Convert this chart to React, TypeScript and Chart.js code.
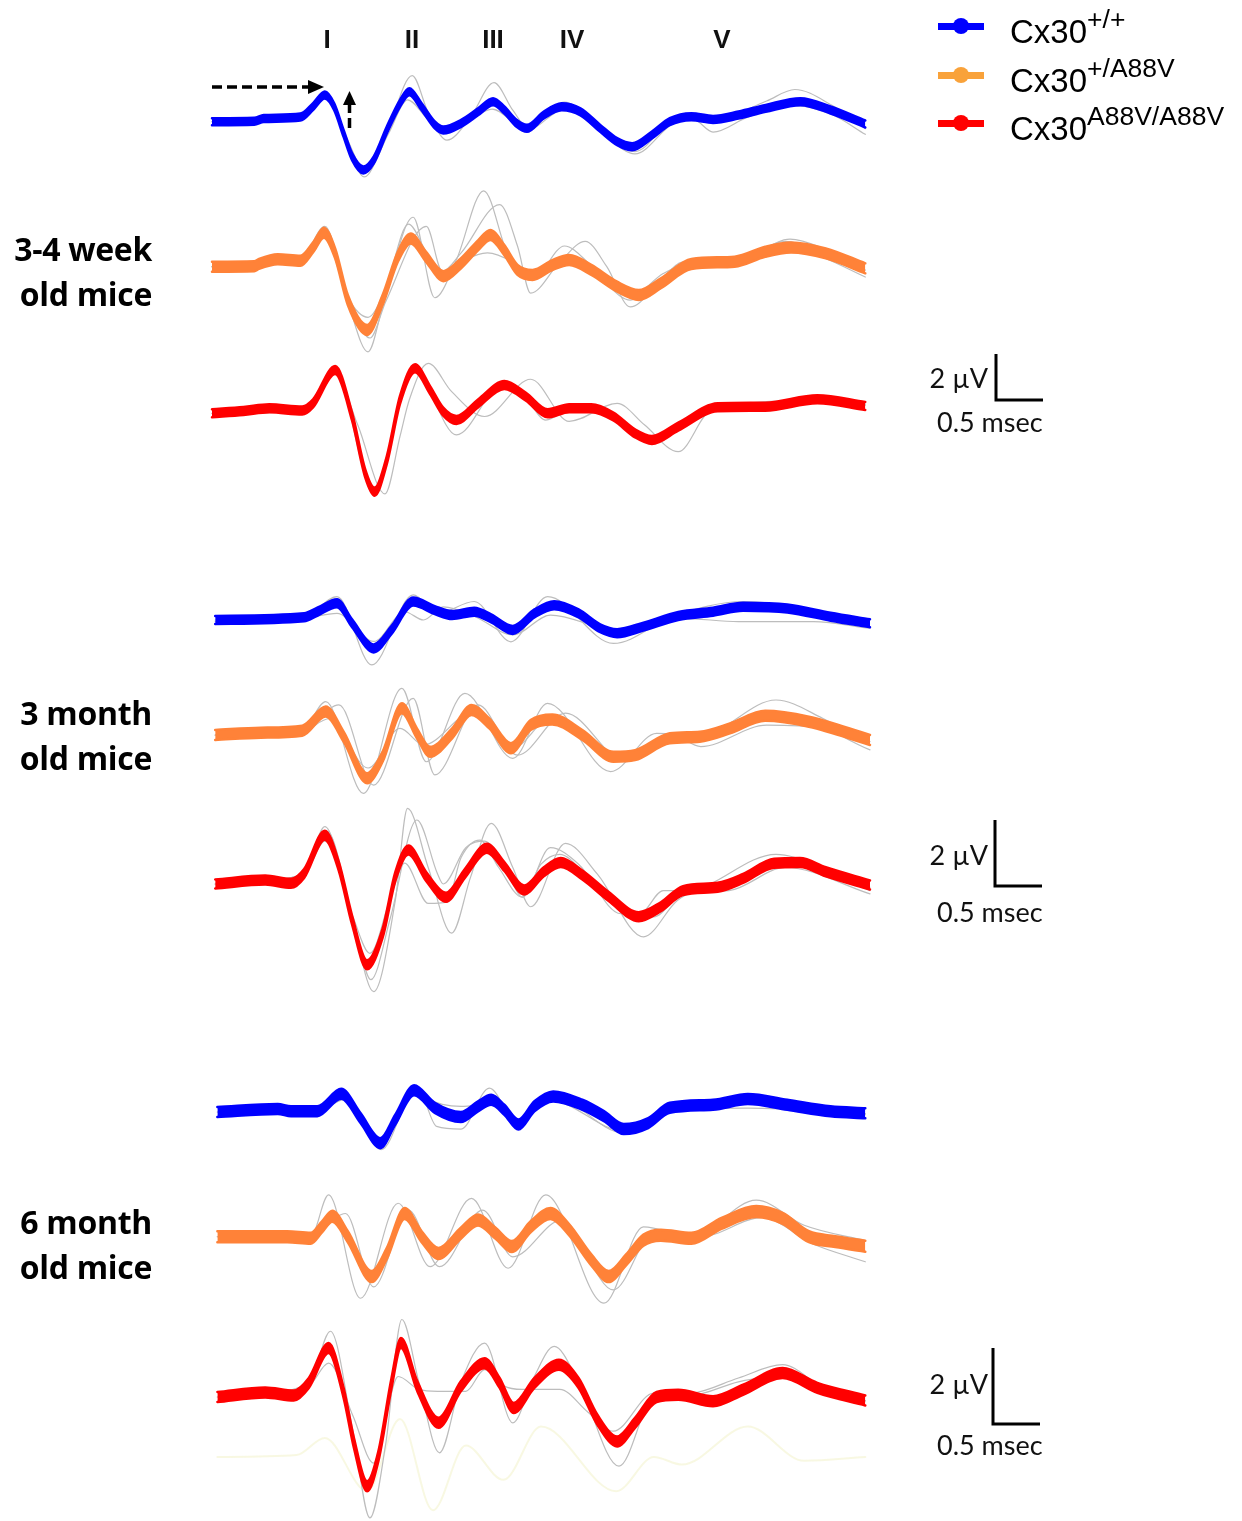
import React, { useEffect, useRef } from "react";
import { Chart, registerables } from "chart.js";

Chart.register(...registerables);

type Pt = [number, number]; // [time in ms, amplitude in µV relative to the trace baseline]

// ---------------- labels ----------------
const WAVE_LABELS = ["I", "II", "III", "IV", "V"];
const GROUP_LABELS = [
  ["3-4 week", "old mice"],
  ["3 month", "old mice"],
  ["6 month", "old mice"],
];
const GENOTYPE_SUPS = ["+/+", "+/A88V", "A88V/A88V"];
const SCALE_UV = 2;
const SCALE_MS = 0.5;

// ---------------- 3-4 week old mice ----------------
const W1_WT_MEAN: Pt[] = [[0,0],[0.45,0.02],[0.55,0.14],[0.94,0.2],[1.08,0.68],[1.2,1.16],[1.3,0.65],[1.4,-0.51],[1.49,-1.52],[1.61,-2.1],[1.72,-1.67],[1.86,-0.36],[2.0,0.8],[2.1,1.3],[2.23,0.65],[2.37,-0.14],[2.46,-0.36],[2.65,-0.07],[2.83,0.43],[2.99,0.87],[3.11,0.51],[3.24,-0.07],[3.35,-0.29],[3.53,0.29],[3.72,0.65],[3.92,0.43],[4.13,-0.29],[4.31,-0.87],[4.47,-1.09],[4.68,-0.58],[4.87,0],[5.1,0.22],[5.33,0.1],[5.6,0.29],[5.89,0.58],[6.26,0.87],[6.58,0.51],[6.95,-0.1]];
const W1_WT_GA: Pt[] = [[0,0],[0.94,0.19],[1.2,1.25],[1.4,-0.45],[1.62,-2.4],[1.86,-0.5],[2.13,2.0],[2.3,0.4],[2.5,-0.8],[2.75,0.2],[3.0,1.7],[3.2,0.5],[3.37,-0.3],[3.75,0.85],[4.1,-0.2],[4.5,-1.3],[4.87,0],[5.1,0.3],[5.35,0.1],[5.9,0.9],[6.2,1.4],[6.6,0.7],[6.95,-0.3]];
const W1_WT_GB: Pt[] = [[0,0],[0.94,0.15],[1.21,1.0],[1.42,-0.6],[1.64,-2.2],[1.88,-0.5],[2.08,0.95],[2.3,0.1],[2.5,-0.4],[2.75,0.1],[2.98,0.55],[3.35,-0.35],[3.76,0.55],[4.1,-0.3],[4.5,-1.4],[4.9,-0.1],[5.12,0.1],[5.33,-0.45],[5.7,0.2],[6.2,0.7],[6.6,0.3],[6.95,-0.55]];

const W1_HET_MEAN: Pt[] = [[0,0],[0.45,0.02],[0.5,0.12],[0.7,0.32],[0.94,0.26],[1.08,0.87],[1.19,1.48],[1.31,0.58],[1.445,-1.45],[1.65,-2.75],[1.815,-1.45],[1.977,0.43],[2.115,1.23],[2.277,0.43],[2.462,-0.41],[2.647,0.14],[2.833,0.94],[2.96,1.38],[3.11,0.72],[3.25,-0.14],[3.41,-0.36],[3.62,0.07],[3.8,0.29],[4.035,-0.14],[4.31,-0.87],[4.54,-1.23],[4.775,-0.72],[5.1,0.12],[5.56,0.22],[5.885,0.65],[6.16,0.84],[6.53,0.58],[6.95,-0.07]];
const W1_HET_GA: Pt[] = [[0,0],[0.94,0.25],[1.2,1.75],[1.45,-1.6],[1.66,-3.7],[1.83,-1.5],[2.14,2.15],[2.37,-1.35],[2.6,0.3],[2.89,3.3],[3.15,0.5],[3.4,-0.6],[3.75,0.9],[4.05,0.0],[4.45,-1.3],[4.8,-0.3],[5.1,0.2],[5.6,0.3],[6.1,1.1],[6.5,0.6],[6.95,-0.3]];
const W1_HET_GB: Pt[] = [[0,0],[0.94,0.25],[1.2,1.3],[1.47,-1.6],[1.68,-3.1],[1.85,-1.5],[2.28,1.75],[2.45,-0.2],[2.65,0.6],[3.06,2.7],[3.25,0.9],[3.39,-1.15],[3.7,0.2],[3.97,1.1],[4.2,0.0],[4.45,-1.75],[4.75,-0.7],[5.0,0.2],[5.5,0.3],[6.1,0.9],[6.5,0.4],[6.95,-0.45]];
const W1_HET_GC: Pt[] = [[0,0],[0.94,0.25],[1.18,1.55],[1.44,-1.3],[1.66,-2.2],[1.85,-0.9],[2.09,1.85],[2.3,0.5],[2.5,-0.3],[2.7,0.3],[2.93,0.6],[3.2,0.2],[3.4,-0.4],[3.8,0.4],[4.1,-0.4],[4.45,-1.45],[4.8,-0.6],[5.1,0.2],[5.6,0.25],[6.15,1.2],[6.5,0.8],[6.95,-0.15]];

const W1_HOM_MEAN: Pt[] = [[0,0],[0.335,0.1],[0.61,0.22],[0.96,0.12],[1.075,0.43],[1.31,1.88],[1.49,-0.14],[1.63,-2.61],[1.73,-3.41],[1.86,-2.03],[2.0,0.58],[2.16,1.96],[2.32,1.01],[2.46,0.07],[2.6,-0.29],[2.83,0.43],[3.11,1.23],[3.34,0.72],[3.57,0],[3.8,0.22],[4.035,0.22],[4.27,-0.14],[4.5,-0.87],[4.68,-1.16],[4.96,-0.58],[5.38,0.26],[5.885,0.29],[6.44,0.61],[6.95,0.32]];
const W1_HOM_GA: Pt[] = [[0,0],[0.96,0.12],[1.3,1.8],[1.55,-0.5],[1.84,-3.5],[2.0,-1.0],[2.1,0.6],[2.3,2.17],[2.55,0.94],[2.9,-0.14],[3.39,1.48],[3.8,-0.35],[4.31,0.43],[4.6,-0.5],[4.96,-1.67],[5.3,0.1],[5.6,0.25],[6.4,0.55],[6.95,0.35]];
const W1_HOM_GB: Pt[] = [[0,0],[0.96,0.12],[1.32,1.7],[1.65,-2.9],[1.75,-3.2],[2.0,0.4],[2.15,1.95],[2.6,-0.94],[3.1,1.3],[3.35,0.6],[3.55,-0.3],[3.85,0.3],[4.1,0.3],[4.5,-0.85],[4.7,-1.3],[5.0,-0.55],[5.4,0.2],[6.4,0.55],[6.95,0.4]];

// ---------------- 3 month old mice ----------------
const M3_WT_MEAN: Pt[] = [[0.034,0],[0.98,0.08],[1.12,0.25],[1.33,0.51],[1.49,-0.1],[1.72,-0.86],[1.91,-0.3],[2.14,0.56],[2.37,0.3],[2.555,0.15],[2.79,0.25],[2.97,0.05],[3.2,-0.3],[3.43,0.2],[3.64,0.45],[3.9,0.2],[4.13,-0.25],[4.31,-0.4],[4.59,-0.2],[4.96,0.12],[5.33,0.25],[5.65,0.4],[6.12,0.35],[6.58,0.1],[7.0,-0.1]];
const M3_WT_GA: Pt[] = [[0.034,0],[0.98,0.08],[1.33,0.71],[1.7,-1.36],[2.14,0.76],[2.4,0.2],[2.79,0.56],[3.18,-0.66],[3.57,0.71],[4.27,-0.71],[4.9,0.1],[5.65,0.56],[6.2,0.4],[7.0,-0.2]];
const M3_WT_GB: Pt[] = [[0.034,-0.05],[0.98,0.05],[1.33,0.2],[1.72,-0.65],[2.05,0.25],[2.25,0.0],[2.46,0.4],[2.8,0.1],[3.2,-0.45],[3.6,0.15],[4.3,-0.3],[5.0,0.05],[5.6,-0.05],[6.4,-0.05],[7.0,-0.25]];

const M3_HET_MEAN: Pt[] = [[0.034,0],[0.52,0.07],[0.96,0.13],[1.21,0.71],[1.4,-0.05],[1.65,-1.31],[1.815,-0.66],[2.02,0.81],[2.18,0.05],[2.32,-0.51],[2.555,0.05],[2.76,0.76],[2.95,0.35],[3.18,-0.4],[3.39,0.3],[3.62,0.47],[3.94,0],[4.27,-0.66],[4.5,-0.61],[4.87,-0.1],[5.19,-0.05],[5.51,0.2],[5.885,0.58],[6.35,0.4],[7.0,-0.15]];
const M3_HET_GA: Pt[] = [[0.034,0],[0.96,0.13],[1.21,1.01],[1.61,-1.77],[2.02,1.41],[2.28,-0.81],[2.69,1.26],[3.2,-0.71],[3.57,0.96],[4.24,-1.11],[4.73,0.05],[5.2,0.0],[6.0,1.06],[6.5,0.5],[7.0,-0.3]];
const M3_HET_GB: Pt[] = [[0.034,0],[0.96,0.1],[1.35,0.91],[1.72,-1.52],[2.14,1.11],[2.37,-1.21],[2.83,0.91],[3.25,-0.61],[3.76,0.66],[4.4,-0.81],[4.85,-0.2],[5.3,-0.1],[6.03,0.66],[7.0,-0.45]];
const M3_HET_GC: Pt[] = [[0.034,0],[0.96,0.1],[1.25,0.5],[1.66,-1.0],[2.0,0.2],[2.25,-0.3],[2.78,0.7],[3.2,-0.4],[3.6,0.5],[4.3,-0.7],[4.9,0.0],[5.2,-0.35],[5.9,0.3],[6.5,0.2],[7.0,-0.2]];

const M3_HOM_MEAN: Pt[] = [[0.034,0],[0.566,0.12],[0.84,0.02],[0.98,0.32],[1.2,1.48],[1.35,0.53],[1.49,-1.09],[1.65,-2.45],[1.815,-1.49],[1.95,0.22],[2.09,1.03],[2.28,0.22],[2.49,-0.4],[2.69,0.32],[2.925,1.08],[3.11,0.53],[3.32,-0.18],[3.53,0.37],[3.71,0.65],[3.94,0.27],[4.22,-0.38],[4.54,-0.99],[4.775,-0.69],[5.01,-0.2],[5.38,-0.1],[5.65,0.17],[5.98,0.63],[6.255,0.65],[6.53,0.37],[7.0,-0.03]];
const M3_HOM_GA: Pt[] = [[0.034,0],[0.98,0.3],[1.2,1.74],[1.5,-1.2],[1.72,-3.26],[1.95,-0.5],[2.08,2.29],[2.3,0.5],[2.55,-1.49],[2.75,0.2],[2.97,1.84],[3.2,0.5],[3.39,-0.69],[3.76,1.23],[4.1,0.3],[4.59,-1.6],[4.95,-0.5],[5.3,0.0],[6.0,0.9],[6.5,0.5],[7.0,-0.1]];
const M3_HOM_GB: Pt[] = [[0.034,0],[0.98,0.3],[1.22,1.6],[1.52,-1.3],[1.69,-2.9],[1.9,-1.0],[2.18,1.94],[2.4,0.3],[2.46,0.0],[2.7,1.1],[2.9,1.3],[3.15,0.3],[3.3,-0.4],[3.6,1.1],[3.9,0.6],[4.35,-0.9],[4.55,-0.9],[4.8,-0.2],[5.4,-0.2],[6.0,0.7],[6.6,0.3],[7.0,-0.2]];
const M3_HOM_GC: Pt[] = [[0.034,0],[0.98,0.3],[1.2,1.3],[1.5,-1.0],[1.68,-2.1],[1.9,-0.4],[2.05,0.63],[2.3,-0.59],[2.5,-0.55],[2.65,0.8],[2.85,1.33],[3.05,0.5],[3.3,-0.4],[3.5,0.6],[3.7,0.9],[4.0,0.2],[4.3,-0.6],[4.7,-1.0],[5.0,-0.3],[5.5,-0.2],[6.1,0.5],[7.0,-0.3]];

// ---------------- 6 month old mice ----------------
const M6_WT_MEAN: Pt[] = [[0.057,0],[0.7,0.08],[0.84,0.02],[1.12,0.02],[1.375,0.48],[1.58,-0.16],[1.79,-0.82],[1.95,-0.2],[2.15,0.57],[2.37,0.11],[2.647,-0.13],[2.83,0.15],[2.97,0.32],[3.11,0.06],[3.26,-0.33],[3.43,0.15],[3.63,0.41],[3.94,0.19],[4.17,-0.11],[4.38,-0.45],[4.64,-0.29],[4.87,0.11],[5.33,0.19],[5.7,0.34],[6.12,0.19],[6.58,0.02],[6.95,-0.03]];
const M6_WT_GA: Pt[] = [[0.057,0],[1.12,0.02],[1.38,0.55],[1.8,-0.99],[2.18,0.68],[2.39,-0.38],[2.65,-0.45],[2.95,0.63],[3.26,-0.38],[3.6,0.45],[4.38,-0.55],[4.9,0.1],[5.7,0.3],[6.95,-0.05]];
const M6_WT_GB: Pt[] = [[0.057,0],[1.12,0.02],[1.4,0.32],[1.8,-0.7],[2.15,0.45],[2.45,0.2],[2.65,0.15],[2.97,0.2],[3.26,-0.2],[3.6,0.3],[4.38,-0.5],[4.9,0.05],[5.7,0.1],[6.95,-0.05]];

const M6_HET_MEAN: Pt[] = [[0.057,0],[0.8,0],[1.05,-0.04],[1.17,0.26],[1.28,0.54],[1.445,0],[1.7,-1.05],[1.86,-0.44],[2.05,0.61],[2.23,0],[2.41,-0.44],[2.647,0.09],[2.83,0.44],[3.017,0.09],[3.19,-0.26],[3.39,0.26],[3.6,0.61],[3.8,0.18],[4.035,-0.61],[4.22,-1.05],[4.405,-0.61],[4.59,-0.09],[4.775,0.04],[5.1,-0.04],[5.42,0.35],[5.79,0.66],[6.07,0.48],[6.35,0],[6.63,-0.13],[6.95,-0.25]];
const M6_HET_GA: Pt[] = [[0.057,0],[1.05,0],[1.24,1.1],[1.58,-1.62],[1.98,0.88],[2.32,-0.79],[2.76,1.01],[3.15,-0.83],[3.55,1.1],[4.17,-1.75],[4.59,0.26],[5.1,0.0],[5.79,0.96],[6.3,0.3],[6.95,-0.1]];
const M6_HET_GB: Pt[] = [[0.057,0],[1.05,0],[1.42,0.61],[1.72,-1.32],[2.09,0.7],[2.42,-0.79],[2.88,0.7],[3.2,-0.53],[3.72,0.44],[4.27,-1.4],[4.7,0.1],[5.2,0.0],[5.85,0.5],[6.4,-0.2],[6.95,-0.66]];

const M6_HOM_MEAN: Pt[] = [[0.057,0],[0.566,0.12],[0.87,0.04],[1.03,0.37],[1.24,1.29],[1.4,0.11],[1.51,-1.21],[1.65,-2.35],[1.77,-1.56],[1.91,0.37],[2.01,1.42],[2.185,0.28],[2.41,-0.68],[2.647,0.28],[2.9,0.89],[3.06,0.37],[3.21,-0.29],[3.43,0.37],[3.69,0.85],[3.9,0.37],[4.1,-0.6],[4.31,-1.17],[4.5,-0.68],[4.73,0],[4.96,0.06],[5.33,-0.11],[5.65,0.19],[6.07,0.63],[6.44,0.24],[6.95,-0.09]];
const M6_HOM_GA: Pt[] = [[0.057,0],[1.03,0.35],[1.26,1.73],[1.5,-0.9],[1.68,-3.18],[1.85,-1.2],[2.02,2.04],[2.2,0.4],[2.42,-1.47],[2.65,0.4],[2.9,1.42],[3.2,-0.68],[3.42,0.5],[3.64,1.33],[3.9,0.4],[4.33,-1.82],[4.7,0.0],[5.1,0.1],[5.6,0.5],[6.07,0.85],[6.5,0.25],[6.95,-0.1]];
const M6_HOM_GB: Pt[] = [[0.057,0],[1.03,0.3],[1.24,0.89],[1.5,-0.5],[1.72,-1.74],[1.85,-0.5],[1.98,0.54],[2.2,0.2],[2.4,0.15],[2.7,0.15],[2.9,0.72],[3.1,0.3],[3.3,0.2],[3.7,0.2],[4.0,-0.4],[4.27,-0.9],[4.7,0.1],[5.1,0.05],[5.6,0.4],[6.03,0.55],[6.5,0.2],[6.95,-0.1]];
// faint ghost trace visible below the last record
const M6_GHOST: Pt[] = [[0.057,0],[0.9,0.05],[1.2,0.5],[1.65,-0.9],[2.0,1.0],[2.35,-1.4],[2.7,0.3],[3.1,-0.6],[3.5,0.8],[4.3,-0.9],[4.7,0.0],[5.0,-0.2],[5.7,0.8],[6.3,-0.1],[6.95,0.0]];

// ---------------- layout / style (not data) ----------------
const W = 1242;
const H = 1521;
const X0_PX = 212; // pixel where t = 0 ms
const PX_PER_MS = 94;
const GAIN = [23, 33, 38]; // pixels per µV for each age group
const BLUE = "#0000ff";
const ORANGE = "#ff8238";
const RED = "#ff0000";
const GRAY = "#bdbdbd";
const LEGEND_ORANGE = "#f9a23a";

const TRACES = [
  { g: 0, base: 121.7, color: BLUE, hw: 3.5, mean: W1_WT_MEAN, grays: [W1_WT_GA, W1_WT_GB] },
  { g: 0, base: 266.7, color: ORANGE, hw: 5, mean: W1_HET_MEAN, grays: [W1_HET_GA, W1_HET_GB, W1_HET_GC] },
  { g: 0, base: 413.3, color: RED, hw: 4, mean: W1_HOM_MEAN, grays: [W1_HOM_GA, W1_HOM_GB] },
  { g: 1, base: 620, color: BLUE, hw: 4, mean: M3_WT_MEAN, grays: [M3_WT_GA, M3_WT_GB] },
  { g: 1, base: 735, color: ORANGE, hw: 5, mean: M3_HET_MEAN, grays: [M3_HET_GA, M3_HET_GB, M3_HET_GC] },
  { g: 1, base: 884, color: RED, hw: 4.5, mean: M3_HOM_MEAN, grays: [M3_HOM_GA, M3_HOM_GB, M3_HOM_GC] },
  { g: 2, base: 1112, color: BLUE, hw: 5, mean: M6_WT_MEAN, grays: [M6_WT_GA, M6_WT_GB] },
  { g: 2, base: 1236.7, color: ORANGE, hw: 5.5, mean: M6_HET_MEAN, grays: [M6_HET_GA, M6_HET_GB] },
  { g: 2, base: 1397, color: RED, hw: 5, mean: M6_HOM_MEAN, grays: [M6_HOM_GA, M6_HOM_GB] },
];
const GHOST = { g: 2, base: 1457, color: "rgba(240,240,190,0.45)", data: M6_GHOST };

const WAVE_X = [327, 412, 493, 572, 722];
const GROUP_LABEL_Y = [248, 712, 1221];
const SCALE_BARS = [
  { g: 0, x: 996, y: 400, t1: 378, t2: 422 },
  { g: 1, x: 995, y: 886, t1: 855, t2: 912 },
  { g: 2, x: 993, y: 1424, t1: 1384, t2: 1445 },
];
const LEGEND_Y = [26, 75, 123];

function toXY(pts: Pt[], g: number, base: number, shift: number) {
  const off = (H - base) / GAIN[g];
  return pts.map(([t, v]) => ({ x: t, y: v + off + shift }));
}

function buildDatasets() {
  const ds: any[] = [];
  TRACES.forEach((tr) => {
    const hwUV = tr.hw / GAIN[tr.g];
    ds.push({
      data: toXY(tr.mean, tr.g, tr.base, hwUV),
      yAxisID: "y" + tr.g,
      borderColor: tr.color,
      borderWidth: 2.5,
      fill: false,
      order: 0,
    });
    ds.push({
      data: toXY(tr.mean, tr.g, tr.base, -hwUV),
      yAxisID: "y" + tr.g,
      borderColor: tr.color,
      backgroundColor: tr.color,
      borderWidth: 2.5,
      fill: "-1",
      order: 0,
    });
    tr.grays.forEach((gp) => {
      ds.push({
        data: toXY(gp, tr.g, tr.base, 0),
        yAxisID: "y" + tr.g,
        borderColor: GRAY,
        borderWidth: 1.2,
        fill: false,
        order: 2,
      });
    });
  });
  ds.push({
    data: toXY(GHOST.data, GHOST.g, GHOST.base, 0),
    yAxisID: "y" + GHOST.g,
    borderColor: GHOST.color,
    borderWidth: 2,
    fill: false,
    order: 3,
  });
  return ds;
}

const overlayPlugin = {
  id: "overlay",
  afterDatasetsDraw(chart: any) {
    const ctx = chart.ctx as CanvasRenderingContext2D;
    const xs = chart.scales.x;
    const msLen = xs.getPixelForValue(SCALE_MS) - xs.getPixelForValue(0);
    ctx.save();
    ctx.strokeStyle = "#000";
    ctx.fillStyle = "#000";
    ctx.lineWidth = 3;
    ctx.lineCap = "butt";
    ctx.lineJoin = "miter";
    SCALE_BARS.forEach((b) => {
      const ys = chart.scales["y" + b.g];
      const uvLen = ys.getPixelForValue(0) - ys.getPixelForValue(SCALE_UV);
      ctx.beginPath();
      ctx.moveTo(b.x, b.y - uvLen);
      ctx.lineTo(b.x, b.y);
      ctx.lineTo(b.x + msLen, b.y);
      ctx.stroke();
    });
    // dashed arrows
    ctx.lineWidth = 3.5;
    ctx.setLineDash([10, 5]);
    ctx.beginPath();
    ctx.moveTo(212, 87);
    ctx.lineTo(310, 87);
    ctx.stroke();
    ctx.beginPath();
    ctx.moveTo(349.5, 128);
    ctx.lineTo(349.5, 103);
    ctx.stroke();
    ctx.setLineDash([]);
    ctx.beginPath();
    ctx.moveTo(324, 87);
    ctx.lineTo(308, 80);
    ctx.lineTo(308, 94);
    ctx.closePath();
    ctx.fill();
    ctx.beginPath();
    ctx.moveTo(349.5, 91);
    ctx.lineTo(343, 105);
    ctx.lineTo(356, 105);
    ctx.closePath();
    ctx.fill();
    ctx.restore();
  },
};

export default function App() {
  const ref = useRef<HTMLCanvasElement>(null);
  useEffect(() => {
    const chart = new Chart(ref.current as HTMLCanvasElement, {
      type: "line",
      data: { datasets: buildDatasets() },
      options: {
        animation: false,
        responsive: false,
        maintainAspectRatio: false,
        devicePixelRatio: 1,
        layout: { padding: 0 },
        elements: {
          point: { radius: 0, hoverRadius: 0 },
          line: { cubicInterpolationMode: "monotone", borderJoinStyle: "round", borderCapStyle: "round" },
        },
        plugins: { legend: { display: false }, tooltip: { enabled: false }, title: { display: false } },
        events: [],
        scales: {
          x: { type: "linear", display: false, min: -X0_PX / PX_PER_MS, max: (W - X0_PX) / PX_PER_MS },
          y0: { type: "linear", axis: "y", display: false, min: 0, max: H / GAIN[0] },
          y1: { type: "linear", axis: "y", display: false, min: 0, max: H / GAIN[1] },
          y2: { type: "linear", axis: "y", display: false, min: 0, max: H / GAIN[2] },
        },
      } as any,
      plugins: [overlayPlugin],
    });
    return () => chart.destroy();
  }, []);

  const abs = (s: React.CSSProperties): React.CSSProperties => ({ position: "absolute", whiteSpace: "nowrap", ...s });
  const legendColors = [BLUE, LEGEND_ORANGE, RED];

  return (
    <div style={{ position: "absolute", left: 0, top: 0, width: W, height: H, background: "#fff", overflow: "hidden" }}>
      <canvas ref={ref} width={W} height={H} style={{ position: "absolute", left: 0, top: 0, width: W, height: H }} />
      {WAVE_LABELS.map((l, i) => (
        <div key={l} style={abs({ left: WAVE_X[i], top: 26, transform: "translateX(-50%)", font: "bold 26px 'Liberation Sans', Arial, sans-serif", lineHeight: "26px", color: "#111" })}>
          {l}
        </div>
      ))}
      {GROUP_LABELS.map((lines, i) => (
        <div key={i} style={abs({ left: 0, width: 152, top: GROUP_LABEL_Y[i] - 22.5, textAlign: "right", font: "bold 32px 'Open Sans', Lato, sans-serif", letterSpacing: "-0.3px", lineHeight: "45px", color: "#000" })}>
          {lines[0]}
          <br />
          {lines[1]}
        </div>
      ))}
      {SCALE_BARS.map((b, i) => (
        <React.Fragment key={i}>
          <div style={abs({ right: W - 988, top: b.t1 - 14, font: "27px Lato, 'Open Sans', sans-serif", lineHeight: "28px", color: "#111" })}>2 µV</div>
          <div style={abs({ left: 937, top: b.t2 - 14, font: "27px Lato, 'Open Sans', sans-serif", lineHeight: "28px", color: "#111" })}>0.5 msec</div>
        </React.Fragment>
      ))}
      {GENOTYPE_SUPS.map((s, i) => (
        <React.Fragment key={s}>
          <div style={abs({ left: 938, top: LEGEND_Y[i] - 3.5, width: 46, height: 7, background: legendColors[i] })} />
          <div style={abs({ left: 953, top: LEGEND_Y[i] - 8, width: 16, height: 16, borderRadius: 8, background: legendColors[i] })} />
          <div style={abs({ left: 1010, top: LEGEND_Y[i] - 11, font: "33px 'Liberation Sans', Arial, sans-serif", lineHeight: "33px", color: "#000" })}>
            Cx30
            <span style={{ fontSize: 26.5, position: "relative", top: -15 }}>{s}</span>
          </div>
        </React.Fragment>
      ))}
    </div>
  );
}
